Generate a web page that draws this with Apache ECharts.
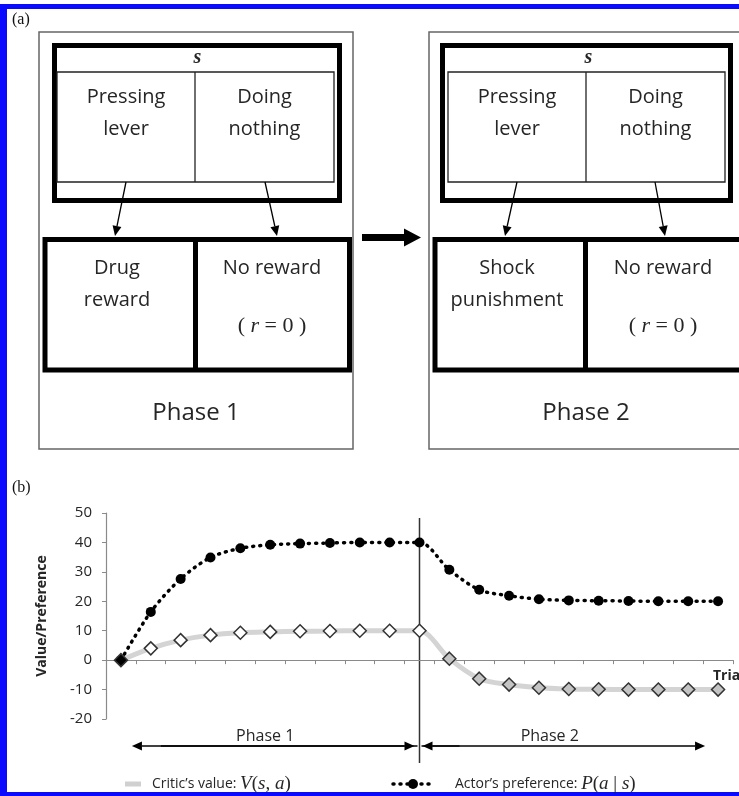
<!DOCTYPE html>
<html><head><meta charset="utf-8">
<script src="https://cdn.jsdelivr.net/npm/echarts@6/dist/echarts.min.js"></script>
<style>html,body{margin:0;padding:0;background:#fff;overflow:hidden}#c{width:739px;height:796px}</style>
</head><body><div id="c"></div>
<script>
// ---------- data ----------
const trials = ['1','2','3','4','5','6','7','8','9','10','11','12','13','14','15','16','17','18','19','20','21'];
const actorPreference = [0, 16.4, 27.6, 34.9, 38.0, 39.2, 39.6, 39.8, 40.0, 40.0, 40.0, 30.7, 23.9, 21.9, 20.7, 20.3, 20.2, 20.1, 20.0, 20.0, 20.0];
const criticValue = [0, 4.0, 6.8, 8.5, 9.3, 9.6, 9.8, 9.9, 10.0, 10.0, 10.0, 0.5, -6.3, -8.3, -9.4, -9.8, -9.9, -10.0, -10.0, -10.0, -10.0];
const yTicks = [-20, -10, 0, 10, 20, 30, 40, 50];
const phaseSwitch = 10;
const phaseNames = ['Phase 1', 'Phase 2'];

const SANS = '"Open Sans", "Noto Sans", sans-serif';
const SERIF = '"Liberation Serif", "DejaVu Serif", serif';
const INK = '#262626';

const chart = echarts.init(document.getElementById('c'), null, {renderer: 'canvas'});

chart.setOption({
  animation: false,
  backgroundColor: '#fff',
  grid: {left: 106, right: 6, top: 513, bottom: 77, containLabel: false},
  xAxis: {
    type: 'category', data: trials, boundaryGap: true,
    axisLine: {onZero: true, lineStyle: {color: '#8a8a8a', width: 1.2}},
    axisTick: {show: true, length: 4, lineStyle: {color: '#8a8a8a'}},
    axisLabel: {show: false}, splitLine: {show: false}
  },
  yAxis: {
    type: 'value', min: yTicks[0], max: yTicks[yTicks.length - 1], interval: yTicks[1] - yTicks[0],
    name: 'Value/Preference', nameLocation: 'middle', nameGap: 57, nameRotate: 90,
    nameTextStyle: {fontFamily: SANS, fontSize: 14, fontWeight: 'bold', color: INK},
    axisLine: {show: true, lineStyle: {color: '#8a8a8a', width: 1.2}},
    axisTick: {show: true, length: 4, lineStyle: {color: '#8a8a8a'}},
    axisLabel: {fontFamily: SANS, fontSize: 15, color: INK, margin: 14},
    splitLine: {show: false}
  },
  series: [
    {
      name: "Actor's preference", type: 'line', data: actorPreference, smooth: 0.3,
      symbol: 'circle', symbolSize: 10, itemStyle: {color: '#000'},
      lineStyle: {color: '#000', width: 3.5, type: [1, 6], cap: 'round'}, z: 2
    },
    {
      name: "Critic's value", type: 'line', smooth: 0.3,
      data: criticValue.map((v, i) => ({value: v, itemStyle: {color: i === 0 ? '#000' : (i > phaseSwitch ? '#c4c4c4' : '#fff')}})),
      symbol: 'diamond', symbolSize: 13,
      itemStyle: {borderColor: '#333', borderWidth: 1.5},
      lineStyle: {color: '#d4d4d4', width: 5}, z: 3
    }
  ]
});

// ---------- helpers for graphic elements ----------
function rect(x, y, w, h, lw, stroke) {
  return {type: 'rect', shape: {x: x, y: y, width: w, height: h}, style: {fill: 'none', stroke: stroke || '#000', lineWidth: lw}, silent: true};
}
function line(x1, y1, x2, y2, lw, stroke) {
  return {type: 'line', shape: {x1: x1, y1: y1, x2: x2, y2: y2}, style: {stroke: stroke || '#000', lineWidth: lw}, silent: true};
}
function arrow(x1, y1, x2, y2, lw, hl, hw, color) {
  const dx = x2 - x1, dy = y2 - y1, L = Math.sqrt(dx * dx + dy * dy);
  const ux = dx / L, uy = dy / L, bx = x2 - ux * hl, by = y2 - uy * hl;
  return [
    line(x1, y1, bx, by, lw, color),
    {type: 'polygon', shape: {points: [[x2, y2], [bx - uy * hw, by + ux * hw], [bx + uy * hw, by - ux * hw]]}, style: {fill: color || '#000'}, silent: true}
  ];
}
function text(x, y, str, font, align, extra) {
  return {type: 'text', x: x, y: y, silent: true,
    style: Object.assign({text: str, font: font, fill: INK, align: align || 'center', verticalAlign: 'middle'}, extra || {})};
}

// ---------- panel (a) diagram ----------
function panel(o) {
  const g = [];
  g.push(rect(o.ox1, 32, o.ox2 - o.ox1, 417, 1.5, '#666'));
  g.push(rect(o.tx1, 45.5, o.tx2 - o.tx1, 155, 5, '#000'));
  g.push(text((o.ix1 + o.ix2) / 2 + 2, 58, 's', 'italic bold 20px ' + SERIF));
  g.push(rect(o.ix1, 72, o.ix2 - o.ix1, 110, 1.3, '#222'));
  g.push(line(o.idiv, 72, o.idiv, 182, 1.3, '#222'));
  g.push(text((o.ix1 + o.idiv) / 2, 97, 'Pressing', '20px ' + SANS));
  g.push(text((o.ix1 + o.idiv) / 2, 129, 'lever', '20px ' + SANS));
  g.push(text((o.idiv + o.ix2) / 2, 97, 'Doing', '20px ' + SANS));
  g.push(text((o.idiv + o.ix2) / 2, 129, 'nothing', '20px ' + SANS));
  g.push(...arrow(o.a1[0], 182, o.a1[1], 236, 1.3, 10, 4.5, '#000'));
  g.push(...arrow(o.a2[0], 182, o.a2[1], 236, 1.3, 10, 4.5, '#000'));
  g.push(rect(o.bx1, 239.5, o.bx2 - o.bx1, 130.5, 5, '#000'));
  g.push(line(o.bdiv, 239.5, o.bdiv, 370, 5, '#000'));
  g.push(text(o.l1x, 268, o.l1[0], '20px ' + SANS));
  g.push(text(o.l1x, 300, o.l1[1], '20px ' + SANS));
  g.push(text(o.l2x, 268, 'No reward', '20px ' + SANS));
  g.push({type: 'text', x: o.l2x, y: 326, silent: true,
    style: {text: '( {i|r} = 0 )', fill: INK, align: 'center', verticalAlign: 'middle', font: '22px ' + SERIF,
      rich: {i: {fontFamily: SERIF, fontStyle: 'italic', fontSize: 22, fill: INK}}}});
  g.push(text(o.phx, 413, o.phase, '24px ' + SANS));
  return g;
}

function buildGraphics() {
  const g = [];
  // blue frame
  g.push({type: 'rect', shape: {x: 0, y: 4, width: 739, height: 5}, style: {fill: '#0a0aff'}, silent: true});
  g.push({type: 'rect', shape: {x: 0, y: 4, width: 7, height: 792}, style: {fill: '#0a0aff'}, silent: true});
  g.push({type: 'rect', shape: {x: 0, y: 792, width: 739, height: 4}, style: {fill: '#0a0aff'}, silent: true});
  g.push(text(12, 20, '(a)', '16px ' + SERIF, 'left', {fill: '#111'}));
  g.push(text(12, 488, '(b)', '16px ' + SERIF, 'left', {fill: '#111'}));

  g.push(...panel({ox1: 39, ox2: 353, tx1: 54.5, tx2: 339.5, ix1: 57, ix2: 334, idiv: 195,
    a1: [126, 115], a2: [265, 277], bx1: 45, bx2: 349.5, bdiv: 195.5,
    l1x: 117, l1: ['Drug', 'reward'], l2x: 272, phx: 196, phase: phaseNames[0]}));
  g.push(...panel({ox1: 429, ox2: 745, tx1: 442.5, tx2: 730.5, ix1: 448, ix2: 725, idiv: 586,
    a1: [517, 505], a2: [655, 665], bx1: 435, bx2: 745, bdiv: 585.5,
    l1x: 507, l1: ['Shock', 'punishment'], l2x: 663, phx: 586, phase: phaseNames[1]}));
  // big arrow between panels
  g.push({type: 'polygon', shape: {points: [[362, 234], [404, 234], [404, 228.5], [421, 237.5], [404, 246.5], [404, 241], [362, 241]]}, style: {fill: '#000'}, silent: true});

  // ---------- panel (b) annotations, positioned via the chart's scales ----------
  const p0 = chart.convertToPixel({xAxisIndex: 0, yAxisIndex: 0}, [0, 0]);
  const pS = chart.convertToPixel({xAxisIndex: 0, yAxisIndex: 0}, [phaseSwitch, yTicks[yTicks.length - 1]]);
  const pE = chart.convertToPixel({xAxisIndex: 0, yAxisIndex: 0}, [trials.length - 1, 0]);
  const xs = pS[0];
  g.push(line(xs, pS[1] + 5, xs, 763, 1.5, '#333'));
  const ay = 746;
  g.push(...arrow(xs - 2, ay, p0[0] + 11, ay, 1.3, 10, 4.5, '#000'));
  g.push(...arrow(p0[0] + 40, ay, xs - 5, ay, 1.3, 10, 4.5, '#000'));
  g.push(...arrow(xs + 40, ay, xs + 3, ay, 1.3, 10, 4.5, '#000'));
  g.push(...arrow(xs + 2, ay, pE[0] - 13, ay, 1.3, 10, 4.5, '#000'));
  g.push(text((p0[0] + xs) / 2 - 5, 736, phaseNames[0], '16px ' + SANS));
  g.push(text((xs + pE[0]) / 2 - 19, 736, phaseNames[1], '16px ' + SANS));
  g.push(text(713, 676, 'Trial', 'bold 14px ' + SANS, 'left'));

  // legend
  const ly = 784;
  g.push(line(125, ly, 141, ly, 5, '#d0d0d0'));
  g.push({type: 'text', x: 152, y: ly, silent: true,
    style: {text: "{a|Critic’s value: }{v|V}{n|(}{v|s}{n|, }{v|a}{n|)}", align: 'left', verticalAlign: 'middle', fill: INK,
      rich: {a: {fontFamily: SANS, fontSize: 14, fill: INK},
             v: {fontFamily: SERIF, fontStyle: 'italic', fontSize: 19, fill: INK},
             n: {fontFamily: SERIF, fontSize: 19, fill: INK}}}});
  g.push({type: 'line', shape: {x1: 393, y1: ly, x2: 434, y2: ly}, style: {stroke: '#000', lineWidth: 3.5, lineDash: [1, 6], lineCap: 'round'}, silent: true});
  g.push({type: 'circle', shape: {cx: 413, cy: ly, r: 5}, style: {fill: '#000'}, silent: true});
  g.push({type: 'text', x: 455, y: ly, silent: true,
    style: {text: "{a|Actor’s preference: }{v|P}{n|(}{v|a}{n| | }{v|s}{n|)}", align: 'left', verticalAlign: 'middle', fill: INK,
      rich: {a: {fontFamily: SANS, fontSize: 14, fill: INK},
             v: {fontFamily: SERIF, fontStyle: 'italic', fontSize: 19, fill: INK},
             n: {fontFamily: SERIF, fontSize: 19, fill: INK}}}});
  return g;
}

chart.setOption({graphic: {elements: buildGraphics()}});
</script>
</body></html>
